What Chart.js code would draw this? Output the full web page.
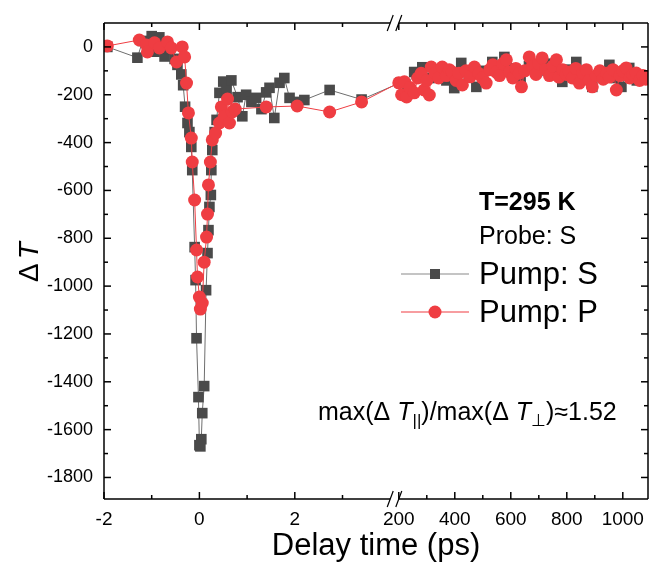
<!DOCTYPE html>
<html>
<head>
<meta charset="utf-8">
<script src="https://cdn.jsdelivr.net/npm/chart.js@4/dist/chart.umd.min.js"></script>
<style>
html, body { margin: 0; padding: 0; background: #fff; }
</style>
</head>
<body>
<canvas id="myChart" width="649" height="565"></canvas>
<script>
// delay times (ps) and ΔT values
var sTimes = [-1.93, -1.30, -1.19, -1.00, -0.94, -0.84, -0.73, -0.63, -0.52, -0.46, -0.38, -0.34, -0.30, -0.25, -0.21, -0.17,
  -0.15, -0.10, -0.08, -0.06, -0.02, 0.00, 0.02, 0.04, 0.06, 0.10, 0.14, 0.17, 0.19, 0.21, 0.24, 0.25, 0.27, 0.32, 0.36,
  0.42, 0.50, 0.57, 0.67, 0.80, 0.90, 0.98, 1.09, 1.19, 1.30, 1.40, 1.47, 1.57, 1.68, 1.78, 1.89, 2.03, 2.20, 2.73, 3.40,
  205, 230, 255, 284, 310, 340, 370, 398, 423, 450, 477, 505, 534, 560, 577, 605, 635, 665, 695, 725, 755, 784, 810, 834,
  862, 891, 920, 952, 975, 995, 1023, 1050, 1075];
var sValues = [0, -45, 25, 45, -20, 40, -40, -10, -50, -75, -115, -160, -250, -318, -356, -418,
  -515, -837, -975, -1218, -1464, -1665, -1670, -1640, -1531, -1418, -1017, -862, -766, -669, -619, -515, -431, -356, -305,
  -192, -145, -180, -140, -210, -290, -200, -230, -213, -260, -190, -171, -297, -150, -130, -213, -230, -222, -180, -220,
  -150, -170, -105, -85, -130, -110, -140, -172, -67, -120, -167, -100, -63, -110, -42, -90, -125, -80, -100, -70, -115, -146, -95, -63,
  -120, -167, -110, -75, -130, -167, -88, -140, -120];

var pTimes = [-1.93, -1.26, -1.11, -1.09, -0.94, -0.84, -0.67, -0.59, -0.48, -0.36, -0.31, -0.27, -0.23, -0.17, -0.15, -0.10,
  -0.06, -0.04, 0.00, 0.02, 0.06, 0.10, 0.15, 0.17, 0.19, 0.23, 0.27, 0.34, 0.42, 0.46, 0.52, 0.59, 0.63, 0.69, 0.75,
  1.40, 2.05, 2.73, 3.40,
  200, 210, 220, 228, 240, 255, 268, 280, 290, 300, 309, 316, 330, 342, 355, 370, 380, 391, 405, 415, 427, 440, 455, 470,
  485, 498, 512, 525, 536, 548, 560, 572, 584, 595, 607, 618, 630, 638, 650, 666, 678, 690, 700, 712, 725, 738, 750, 763,
  772, 785, 798, 809, 820, 832, 845, 858, 870, 880, 891, 905, 918, 930, 942, 952, 965, 977, 990, 1000, 1012, 1025, 1036,
  1048, 1060, 1072, 1082];
var pValues = [4, 29, 8, -21, 17, -4, 21, -4, -63, 0, -42, -151, -276, -381, -481, -640,
  -849, -962, -1046, -1096, -1071, -900, -795, -699, -577, -481, -389, -360, -318, -251, -290, -218, -318, -272, -260,
  -251, -247, -272, -230,
  -150, -200, -146, -209, -170, -192, -130, -110, -180, -140, -201, -84, -110, -130, -84, -120, -95, -105, -140, -110, -159, -100, -125, -84,
  -110, -130, -151, -95, -75, -105, -120, -70, -54, -105, -130, -90, -110, -167, -100, -42, -80, -115, -70, -46, -95, -120, -80, -54,
  -126, -95, -115, -105, -130, -90, -151, -110, -95, -140, -167, -120, -100, -135, -110, -126, -95, -180, -120, -100, -88, -130, -115,
  -109, -140, -120, -135];

var xTickTimes = [-2, -1, 0, 1, 2, 3, 200, 300, 400, 500, 600, 700, 800, 900, 1000];
var xLabelTimes = [-2, 0, 2, 200, 400, 600, 800, 1000];
var yTickValues = [-1800, -1700, -1600, -1500, -1400, -1300, -1200, -1100, -1000, -900, -800, -700, -600, -500, -400, -300, -200, -100, 0];

// broken time axis: -2..4 ps linear, then 200..1090 ps compressed
var BREAK_LO = 4.0, BREAK_HI = 200, GAP = 0.18, K = 0.00587, X_MAX = 1090;
function toAxis(t) { return t <= BREAK_LO ? t : BREAK_LO + GAP + (t - BREAK_HI) * K; }
function fromAxis(u) { return u <= BREAK_LO ? u : BREAK_HI + (u - BREAK_LO - GAP) / K; }

var FONT = '"Liberation Sans", Arial, sans-serif';
var GRAY = '#4a4a4a', GRAY_LINE = '#6e6e6e', RED = '#ef3d42';

function points(ts, vs) {
  return ts.map(function (t, i) { return { x: toAxis(t), y: vs[i] }; });
}

function line(ctx, x1, y1, x2, y2) {
  ctx.beginPath(); ctx.moveTo(x1, y1); ctx.lineTo(x2, y2); ctx.stroke();
}

const frame = {
  id: 'frame',
  afterDraw(chart) {
    const ctx = chart.ctx, a = chart.chartArea;
    const xs = chart.scales.x, ys = chart.scales.y;
    const bx1 = xs.getPixelForValue(BREAK_LO), bx2 = xs.getPixelForValue(toAxis(BREAK_HI));
    ctx.save();
    ctx.strokeStyle = '#000';
    ctx.lineWidth = 1.5;
    line(ctx, a.left, a.top, a.left, a.bottom);
    line(ctx, a.right, a.top, a.right, a.bottom);
    [a.top, a.bottom].forEach(function (y) {
      line(ctx, a.left, y, bx1, y);
      line(ctx, bx2, y, a.right, y);
      ctx.lineWidth = 1.2;
      line(ctx, bx1 - 3, y + 8, bx1 + 3, y - 8);
      line(ctx, bx2 - 3, y + 8, bx2 + 3, y - 8);
      ctx.lineWidth = 1.5;
    });
    // inward ticks
    xTickTimes.forEach(function (t) {
      const px = xs.getPixelForValue(toAxis(t));
      const len = xLabelTimes.indexOf(t) >= 0 ? 7 : 4;
      line(ctx, px, a.bottom, px, a.bottom - len);
      line(ctx, px, a.top, px, a.top + len);
    });
    yTickValues.forEach(function (v) {
      const py = ys.getPixelForValue(v);
      const len = v % 200 === 0 ? 7 : 4;
      line(ctx, a.left, py, a.left + len, py);
      line(ctx, a.right, py, a.right - len, py);
    });

    // y title: ΔT (T italic)
    ctx.fillStyle = '#000';
    ctx.translate(30, 262);
    ctx.rotate(-Math.PI / 2);
    ctx.textBaseline = 'middle';
    ctx.font = '28px ' + FONT;
    const wD = ctx.measureText('\u0394').width + 4;
    ctx.font = 'italic 28px ' + FONT;
    const wT = ctx.measureText('T').width;
    let x0 = -(wD + wT) / 2;
    ctx.font = '28px ' + FONT;
    ctx.fillText('\u0394', x0, 0);
    ctx.font = 'italic 28px ' + FONT;
    ctx.fillText('T', x0 + wD, 0);
    ctx.setTransform(1, 0, 0, 1, 0, 0);

    // legend block
    ctx.textBaseline = 'middle';
    ctx.textAlign = 'left';
    ctx.font = 'bold 25px ' + FONT;
    ctx.fillText('T=295 K', 479, 203);
    ctx.font = '25px ' + FONT;
    ctx.fillText('Probe: S', 479, 237);
    ctx.font = '31px ' + FONT;
    ctx.fillText('Pump: S', 479, 275);
    ctx.fillText('Pump: P', 479, 313);
    ctx.lineWidth = 1.2;
    ctx.strokeStyle = '#8a8a8a';
    line(ctx, 401, 274, 469, 274);
    ctx.fillStyle = GRAY;
    ctx.fillRect(430, 269, 10, 10);
    ctx.strokeStyle = RED;
    line(ctx, 401, 312, 469, 312);
    ctx.fillStyle = RED;
    ctx.beginPath(); ctx.arc(435, 312, 6.5, 0, Math.PI * 2); ctx.fill();

    // ratio annotation
    ctx.fillStyle = '#000';
    let x = 318;
    const y = 413, fs = 25;
    function put(text, style, size, dy) {
      ctx.font = style + size + 'px ' + FONT;
      ctx.fillText(text, x, y + dy);
      x += ctx.measureText(text).width;
    }
    put('max(\u0394 ', '', fs, 0);
    put('T', 'italic ', fs, 0);
    put('||', '', 17, 8);
    put(')/max(\u0394 ', '', fs, 0);
    put('T', 'italic ', fs, 0);
    put('\u22A5', '', 17, 8);
    put(')\u22481.52', '', fs, 0);
    ctx.restore();
  }
};

new Chart('myChart', {
  type: 'line',
  data: {
    datasets: [{
      label: 'Pump: S',
      data: points(sTimes, sValues),
      order: 2,
      borderColor: GRAY_LINE,
      borderWidth: 1,
      pointStyle: 'rect',
      pointRadius: 7.5,
      pointBorderWidth: 0,
      pointBackgroundColor: GRAY,
      tension: 0
    }, {
      label: 'Pump: P',
      data: points(pTimes, pValues),
      order: 1,
      borderColor: RED,
      borderWidth: 1,
      pointStyle: 'circle',
      pointRadius: 6.5,
      pointBorderWidth: 0,
      pointBackgroundColor: RED,
      tension: 0
    }]
  },
  options: {
    responsive: false,
    animation: false,
    layout: { autoPadding: false, padding: { top: 23, right: 1, left: 0, bottom: 0 } },
    plugins: { legend: { display: false }, tooltip: { enabled: false } },
    scales: {
      x: {
        type: 'linear',
        min: -2,
        max: toAxis(X_MAX),
        grid: { display: false, drawTicks: false },
        border: { display: false },
        afterBuildTicks: function (s) { s.ticks = xTickTimes.map(function (t) { return { value: toAxis(t) }; }); },
        afterFit: function (s) { s.height = 66; s.paddingLeft = 0; s.paddingRight = 0; },
        ticks: {
          autoSkip: false, maxRotation: 0, padding: 9, color: '#000',
          font: { family: FONT, size: 19 },
          callback: function (v) {
            const t = Math.round(fromAxis(v));
            return xLabelTimes.indexOf(t) >= 0 ? String(t) : '';
          }
        },
        title: { display: true, text: 'Delay time (ps)', color: '#000', font: { family: FONT, size: 31 }, padding: { top: 0, bottom: 0 } }
      },
      y: {
        min: -1890,
        max: 100,
        grid: { display: false, drawTicks: false },
        border: { display: false },
        afterBuildTicks: function (s) { s.ticks = yTickValues.map(function (v) { return { value: v }; }); },
        afterFit: function (s) { s.width = 104; },
        ticks: {
          autoSkip: false, padding: 11, color: '#000',
          font: { family: FONT, size: 18 },
          callback: function (v) { return v % 200 === 0 ? String(v) : ''; }
        }
      }
    }
  },
  plugins: [frame]
});
</script>
</body>
</html>
